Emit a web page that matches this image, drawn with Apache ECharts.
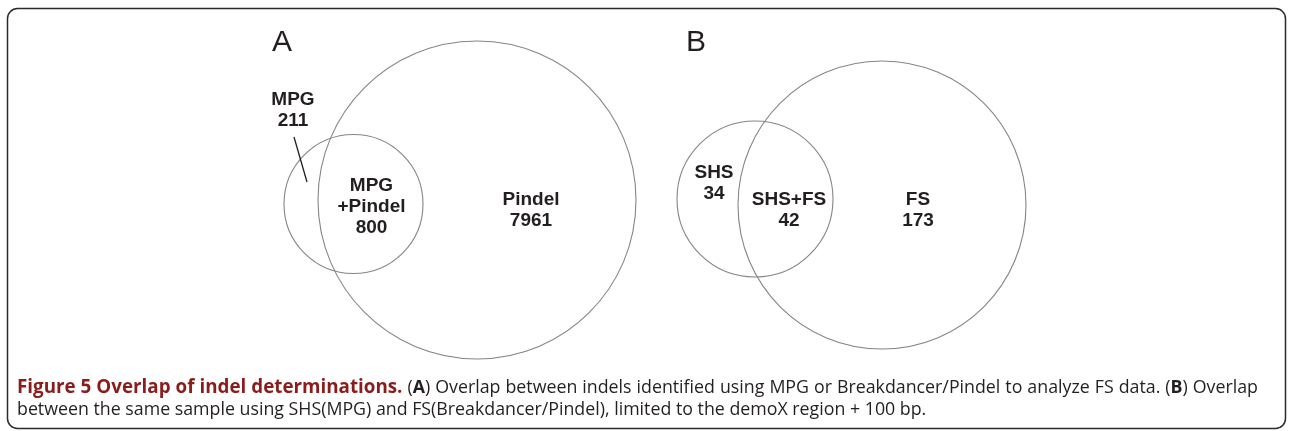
<!DOCTYPE html>
<html>
<head>
<meta charset="utf-8">
<script src="https://cdn.jsdelivr.net/npm/echarts/dist/echarts.min.js"></script>
<style>
  html, body { margin: 0; padding: 0; background: #fff; }
  #container { width: 1289px; height: 431px; }
</style>
</head>
<body>
<div id="container"></div>
<script>
// set circles, drawn in diagram units (x 0..1289, y 0..431 top-down)
var setNames = ['MPG', 'Pindel', 'SHS', 'FS'];
var setCx = [353.5, 477, 755, 882];
var setCy = [204, 200, 199, 205];
var setR = [69.5, 159, 78, 144];

// region counts and where their labels sit
var regionNames = ['MPG', 'MPG\n+Pindel', 'Pindel', 'SHS', 'SHS+FS', 'FS'];
var regionCounts = [211, 800, 7961, 34, 42, 173];
var regionX = [293, 371.5, 531, 714, 789, 918];
var regionY = [110, 207, 210.5, 183, 210, 210];

// leader line from the "MPG 211" label into its region
var leader = [[294, 137, 307, 182]];

var panelLetters = ['A', 'B'];

// caption: first line is justified, second line is ragged
var captionTitle = 'Figure 5 Overlap of indel determinations.';
var captionLine1 = '(A) Overlap between indels identified using MPG or Breakdancer/Pindel to analyze FS data. (B) Overlap';
var captionLine2 = 'between the same sample using SHS(MPG) and FS(Breakdancer/Pindel), limited to the demoX region + 100 bp.';

var capSize = 17.8;
var titleSize = 18.8;
var capLeft = 17;
var capRight = 1258;

var dom = document.getElementById('container');
var myChart = echarts.init(dom);

var circleData = [];
for (var i = 0; i < setNames.length; i++) {
    circleData.push({name: setNames[i], value: [setCx[i], setCy[i], setR[i]]});
}
var labelData = [];
for (var j = 0; j < regionNames.length; j++) {
    labelData.push({name: regionNames[j], value: [regionX[j], regionY[j]], count: regionCounts[j]});
}

// build the justified first caption line out of rich tokens
var ctx = document.createElement('canvas').getContext('2d');
function textWidth(str, bold, size) {
    ctx.font = (bold ? 'bold ' : '') + size + 'px "Open Sans"';
    return ctx.measureText(str).width;
}
var words = [];
captionTitle.split(' ').forEach(function (w) {
    words.push({rich: '{t|' + w + '}', w: textWidth(w, true, titleSize)});
});
captionLine1.split(' ').forEach(function (w) {
    var m = w.match(/^\(([A-Z])\)$/);
    if (m) {
        words.push({
            rich: '{n|(}{b|' + m[1] + '}{n|)}',
            w: textWidth('(', false, capSize) + textWidth(m[1], true, capSize) + textWidth(')', false, capSize)
        });
    } else {
        words.push({rich: '{n|' + w + '}', w: textWidth(w, false, capSize)});
    }
});
var wordsWidth = 0;
words.forEach(function (d) { wordsWidth += d.w; });
var gap = Math.max(textWidth(' ', false, capSize) * 0.85, (capRight - capLeft - wordsWidth) / (words.length - 1));
var line1Rich = words.map(function (d) { return d.rich; }).join('{sp| }');

var option = {
    animation: false,
    grid: {left: 0, right: 0, top: 0, bottom: 0},
    xAxis: {type: 'value', min: 0, max: 1289, show: false},
    yAxis: {type: 'value', min: 0, max: 431, inverse: true, show: false},
    graphic: [
        {
            type: 'rect',
            shape: {x: 7.5, y: 8.5, width: 1278, height: 420, r: 10},
            style: {fill: 'none', stroke: '#2b2b2b', lineWidth: 1.5}
        },
        {
            type: 'text', left: 272, top: 28,
            style: {text: panelLetters[0], font: '30px "Liberation Sans"', fill: '#231f20'}
        },
        {
            type: 'text', left: 686, top: 28,
            style: {text: panelLetters[1], font: '30px "Liberation Sans"', fill: '#231f20'}
        },
        {
            type: 'text', left: capLeft, top: 377,
            style: {
                text: line1Rich + '\n{n|' + captionLine2 + '}',
                font: capSize + 'px "Open Sans"',
                fill: '#231f20',
                lineHeight: 22,
                rich: {
                    t: {fontWeight: 'bold', fill: '#8b1c1c', fontFamily: 'Open Sans', fontSize: titleSize, lineHeight: 22},
                    b: {fontWeight: 'bold', fill: '#231f20', fontFamily: 'Open Sans', fontSize: capSize, lineHeight: 22},
                    n: {fill: '#231f20', fontFamily: 'Open Sans', fontSize: capSize, lineHeight: 22},
                    sp: {width: gap, fontFamily: 'Open Sans', fontSize: capSize, lineHeight: 22}
                }
            }
        }
    ],
    series: [
        {
            type: 'custom',
            name: 'sets',
            data: circleData,
            silent: true,
            renderItem: function (params, api) {
                var c = api.coord([api.value(0), api.value(1)]);
                var s = api.size([api.value(2), api.value(2)]);
                return {
                    type: 'ellipse',
                    shape: {cx: c[0], cy: c[1], rx: s[0], ry: s[1]},
                    style: {fill: 'none', stroke: '#858585', lineWidth: 1.1}
                };
            }
        },
        {
            type: 'custom',
            name: 'leader',
            data: leader,
            silent: true,
            renderItem: function (params, api) {
                var p1 = api.coord([api.value(0), api.value(1)]);
                var p2 = api.coord([api.value(2), api.value(3)]);
                return {
                    type: 'line',
                    shape: {x1: p1[0], y1: p1[1], x2: p2[0], y2: p2[1]},
                    style: {stroke: '#231f20', lineWidth: 1.3}
                };
            }
        },
        {
            type: 'scatter',
            name: 'regions',
            data: labelData,
            symbolSize: 0,
            silent: true,
            itemStyle: {opacity: 1, color: 'transparent'},
            label: {
                show: true,
                position: 'inside',
                formatter: function (p) {
                    return p.name + '\n' + p.data.count;
                },
                fontFamily: 'Liberation Sans',
                fontWeight: 'bold',
                fontSize: 19,
                lineHeight: 21,
                color: '#231f20',
                opacity: 1,
                align: 'center',
                verticalAlign: 'middle'
            }
        }
    ]
};

if (option && typeof option === 'object') {
    myChart.setOption(option, true);
}
</script>
</body>
</html>
